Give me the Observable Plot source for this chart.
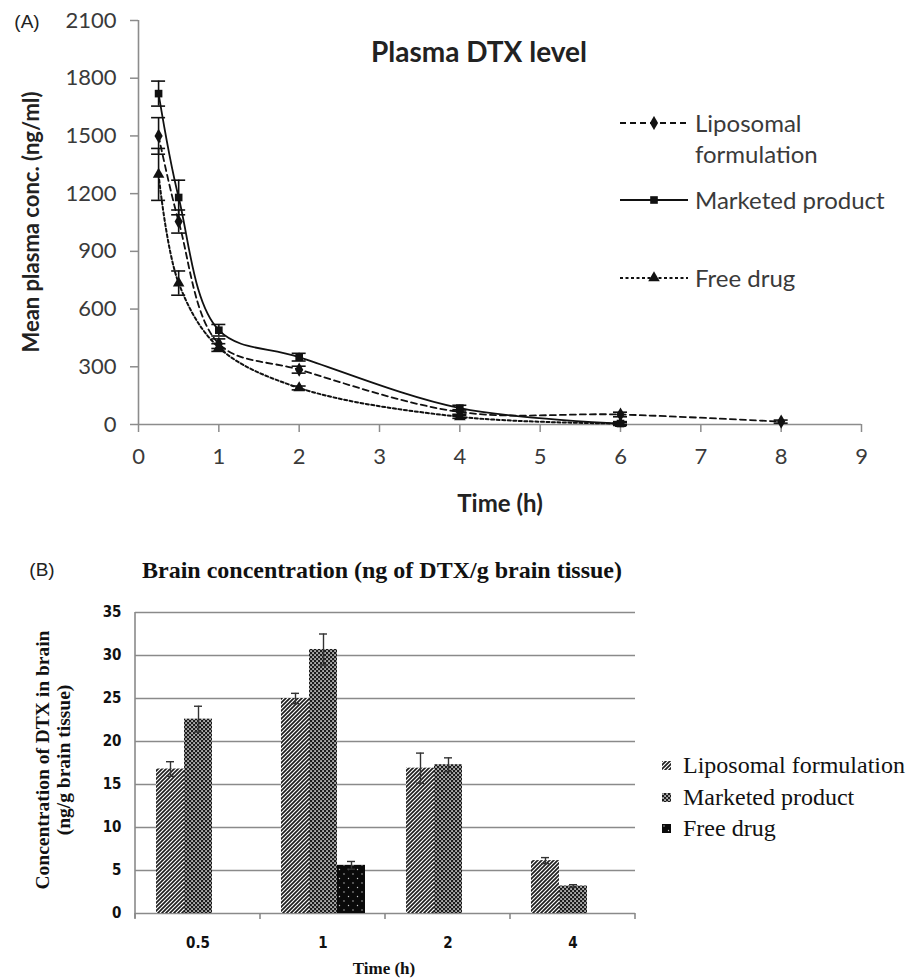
<!DOCTYPE html>
<html><head><meta charset="utf-8">
<script src="https://cdn.jsdelivr.net/npm/d3@7"></script>
<script src="https://cdn.jsdelivr.net/npm/@observablehq/plot@0.6"></script>
<style>
body{margin:0;background:#fff;}
#wrap{position:relative;width:918px;height:978px;overflow:hidden;background:#fff;}
#wrap svg{display:block;}
.lbl{position:absolute;white-space:nowrap;transform:translate(-50%,-50%);line-height:1;}
.lt{position:absolute;white-space:nowrap;line-height:1;transform:translateY(-50%);}
#B [aria-label="y-axis tick label"], #B [aria-label="fx-axis tick label"]{font-weight:bold;}
</style></head>
<body><div id="wrap"><div id="A"></div><div id="B"></div></div>
<script>
// ---------- Panel A data ----------
const seriesA = ["Liposomal formulation", "Marketed product", "Free drug"];
const lipoTime = [0.25, 0.5, 1, 2, 4, 6, 8];
const lipoMean = [1500, 1055, 420, 285, 65, 52, 15];
const lipoSD   = [95, 60, 25, 18, 12, 12, 8];
const marketTime = [0.25, 0.5, 1, 2, 4, 6];
const marketMean = [1720, 1180, 490, 350, 85, 5];
const marketSD   = [65, 90, 30, 20, 15, 10];
const freeTime = [0.25, 0.5, 1, 2, 4, 6];
const freeMean = [1300, 735, 400, 190, 40, 5];
const freeSD   = [135, 63, 20, 10, 8, 5];
const xTicksA = [0, 1, 2, 3, 4, 5, 6, 7, 8, 9];
const yTicksA = [0, 300, 600, 900, 1200, 1500, 1800, 2100];

// ---------- Panel B data ----------
const timesB = ["0.5", "1", "2", "4"];
const seriesB = ["Liposomal formulation", "Marketed product", "Free drug"];
const lipoB     = [16.8, 25.0, 16.9, 6.15];
const lipoErrB  = [0.85, 0.6, 1.75, 0.35];
const marketB   = [22.6, 30.7, 17.3, 3.2];
const marketErrB= [1.5, 1.8, 0.8, 0.15];
const freeB     = [0, 5.6, 0, 0];
const freeErrB  = [0, 0.45, 0, 0];
const yTicksB = [0, 5, 10, 15, 20, 25, 30, 35];

const wrap = document.getElementById("wrap");
function addText(txt, x, y, css, rot) {
  const el = document.createElement("div");
  el.className = "lbl"; el.textContent = txt;
  el.style.left = x + "px"; el.style.top = y + "px";
  Object.assign(el.style, css || {});
  if (rot) el.style.transform = `translate(-50%,-50%) rotate(${rot}deg)`;
  wrap.appendChild(el);
  return el;
}
function addLeft(txt, x, y, css) {
  const el = document.createElement("div");
  el.className = "lt"; el.textContent = txt;
  el.style.left = x + "px"; el.style.top = y + "px";
  Object.assign(el.style, css || {});
  wrap.appendChild(el);
  return el;
}

// ---------- Build panel A ----------
function rows(series, times, means, sds) {
  return times.map((t, i) => ({series, t, mean: means[i], sd: sds[i]}));
}
const lipoA = rows(seriesA[0], lipoTime, lipoMean, lipoSD);
const marketA = rows(seriesA[1], marketTime, marketMean, marketSD);
const freeA = rows(seriesA[2], freeTime, freeMean, freeSD);
const allA = [...lipoA, ...marketA, ...freeA];

const styleA = {
  [seriesA[0]]: {dash: "6,4", symbol: "diamond", width: 1.8},
  [seriesA[1]]: {dash: null, symbol: "square", width: 1.8},
  [seriesA[2]]: {dash: "3,2.5", symbol: "triangle", width: 2}
};

const lineMarks = [[lipoA, seriesA[0]], [marketA, seriesA[1]], [freeA, seriesA[2]]].map(([d, s]) =>
  Plot.line(d, {x: "t", y: "mean", curve: "catmull-rom", stroke: "#111",
    strokeWidth: styleA[s].width, strokeDasharray: styleA[s].dash || undefined}));
const dotMarks = [[lipoA, seriesA[0]], [marketA, seriesA[1]], [freeA, seriesA[2]]].map(([d, s]) =>
  Plot.dot(d, {x: "t", y: "mean", symbol: () => styleA[s].symbol, r: 4.3, fill: "#111", stroke: "none"}));

const plotA = Plot.plot({
  width: 918, height: 530,
  marginLeft: 138, marginRight: 57, marginTop: 20, marginBottom: 106,
  x: {domain: [0, 9]},
  y: {domain: [0, 2100]},
  style: {fontFamily: "Lato, 'Open Sans', sans-serif", fontSize: "22px", color: "#3a3a3a", background: "transparent", overflow: "visible"},
  marks: [
    Plot.axisY({ticks: yTicksA, tickSize: 8, tickPadding: 14, stroke: "#8c8c8c", strokeWidth: 1.5, label: null, tickFormat: d => `${d}`, fontSize: 22}),
    Plot.axisX({ticks: xTicksA, tickSize: 8, tickPadding: 16, stroke: "#8c8c8c", strokeWidth: 1.5, label: null, tickFormat: d => `${d}`, fontSize: 22}),
    Plot.ruleX([0], {stroke: "#8c8c8c", strokeWidth: 1.6}),
    Plot.ruleY([0], {stroke: "#8c8c8c", strokeWidth: 1.6}),
    ...lineMarks,
    Plot.ruleX(allA, {x: "t", y1: d => d.mean - d.sd, y2: d => d.mean + d.sd, stroke: "#111", strokeWidth: 1.6}),
    Plot.ruleY(allA, {x1: "t", x2: "t", y: d => d.mean + d.sd, insetLeft: -7, insetRight: -7, stroke: "#111", strokeWidth: 1.6}),
    Plot.ruleY(allA, {x1: "t", x2: "t", y: d => d.mean - d.sd, insetLeft: -7, insetRight: -7, stroke: "#111", strokeWidth: 1.6}),
    ...dotMarks
  ]
});
document.getElementById("A").appendChild(plotA);

// ---------- Build panel B ----------
const patternFill = ["url(#p-hatch)", "url(#p-check)", "url(#p-dots)"];
const dataB = [];
timesB.forEach((time, i) => {
  [[seriesB[0], lipoB, lipoErrB], [seriesB[1], marketB, marketErrB], [seriesB[2], freeB, freeErrB]].forEach(([series, v, e]) => {
    if (v[i] > 0) dataB.push({time, series, value: v[i], err: e[i]});
  });
});

const plotB = Plot.plot({
  width: 918, height: 448,
  marginLeft: 134, marginRight: 283, marginTop: 82, marginBottom: 65,
  fx: {domain: timesB, padding: 0, label: null},
  x: {domain: seriesB, paddingInner: 0, paddingOuter: 0.73, axis: null},
  y: {domain: [0, 35]},
  color: {domain: seriesB, range: patternFill},
  style: {fontFamily: "'DejaVu Sans Condensed', 'DejaVu Sans', sans-serif", fontSize: "15px", color: "#111", background: "transparent", overflow: "visible"},
  marks: [
    Plot.gridY({ticks: yTicksB, stroke: "#8a8a8a", strokeOpacity: 1, strokeWidth: 1.6}),
    Plot.axisY({ticks: yTicksB, tickSize: 0, tickPadding: 14, label: null, fontSize: 15, fontWeight: "bold"}),
    Plot.axisFx({anchor: "bottom", tickSize: 0, tickPadding: 24, label: null, fontSize: 15, fontWeight: "bold"}),
    Plot.barY(dataB, {fx: "time", x: "series", y: "value", fill: "series"}),
    Plot.ruleX(dataB, {fx: "time", x: "series", y1: d => d.value - d.err, y2: d => d.value + d.err, stroke: "#333", strokeWidth: 1.4}),
    Plot.tickY(dataB, {fx: "time", x: "series", y: d => d.value + d.err, insetLeft: 10, insetRight: 10, stroke: "#333", strokeWidth: 1.4}),
    Plot.tickY(dataB, {fx: "time", x: "series", y: d => d.value - d.err, insetLeft: 10, insetRight: 10, stroke: "#333", strokeWidth: 1.4})
  ]
});
document.getElementById("B").appendChild(plotB);

// patterns
const svgB = d3.select(plotB.tagName.toLowerCase() === "svg" ? plotB : plotB.querySelector("svg"));
const defs = svgB.insert("defs", ":first-child");
const ph = defs.append("pattern").attr("id", "p-hatch").attr("patternUnits", "userSpaceOnUse").attr("width", 4).attr("height", 4);
ph.append("rect").attr("width", 4).attr("height", 4).attr("fill", "#fff");
ph.append("path").attr("d", "M-1,1 L1,-1 M0,4 L4,0 M3,5 L5,3").attr("stroke", "#1e1e1e").attr("stroke-width", 1.7);
const pc = defs.append("pattern").attr("id", "p-check").attr("patternUnits", "userSpaceOnUse").attr("width", 4).attr("height", 4);
pc.append("rect").attr("width", 4).attr("height", 4).attr("fill", "#1c1c1c");
pc.append("rect").attr("x", 0.3).attr("y", 0.3).attr("width", 1.5).attr("height", 1.5).attr("fill", "#fff");
pc.append("rect").attr("x", 2.3).attr("y", 2.3).attr("width", 1.5).attr("height", 1.5).attr("fill", "#fff");
const pd = defs.append("pattern").attr("id", "p-dots").attr("patternUnits", "userSpaceOnUse").attr("width", 9).attr("height", 9);
pd.append("rect").attr("width", 9).attr("height", 9).attr("fill", "#0a0a0a");
pd.append("circle").attr("cx", 2).attr("cy", 2).attr("r", 0.7).attr("fill", "#ccc");
pd.append("circle").attr("cx", 6.5).attr("cy", 6.5).attr("r", 0.7).attr("fill", "#ccc");

// axis line + boundary ticks from the scales
const fxS = plotB.scale("fx"), yS = plotB.scale("y");
const bounds = timesB.map(t => fxS.apply(t)).concat([fxS.apply(timesB[timesB.length - 1]) + fxS.bandwidth]);
const y0 = yS.apply(0), yTop = yS.apply(35);
const gAx = svgB.append("g").attr("stroke", "#8a8a8a").attr("stroke-width", 1.6);
gAx.append("line").attr("x1", bounds[0]).attr("x2", bounds[0]).attr("y1", yTop).attr("y2", y0 + 5);
bounds.forEach(bx => gAx.append("line").attr("x1", bx).attr("x2", bx).attr("y1", y0).attr("y2", y0 + 6));

// ---------- Text overlays ----------
const sans = "Lato, 'Open Sans', sans-serif";
const serif = "'Liberation Serif', 'Times New Roman', serif";
addText("(A)", 27, 21, {fontFamily: "'Liberation Sans', Arial, sans-serif", fontSize: "19px", color: "#222"});
addText("Plasma DTX level", 479, 51, {fontFamily: sans, fontSize: "28px", fontWeight: "bold", color: "#222"});
addText("Mean plasma conc. (ng/ml)", 31, 222, {fontFamily: sans, fontSize: "22px", fontWeight: "bold", color: "#222"}, -90);
addText("Time (h)", 500, 503, {fontFamily: sans, fontSize: "24px", fontWeight: "bold", color: "#222"});

// Legend A
const legA = [
  {s: seriesA[0], y: 123, lines: ["Liposomal", "formulation"]},
  {s: seriesA[1], y: 200, lines: ["Marketed product"]},
  {s: seriesA[2], y: 278, lines: ["Free drug"]}
];
legA.forEach(L => {
  const sw = d3.select(wrap).append("svg").attr("width", 70).attr("height", 14)
    .style("position", "absolute").style("left", "619px").style("top", (L.y - 7) + "px");
  sw.append("line").attr("x1", 1).attr("x2", 69).attr("y1", 7).attr("y2", 7).attr("stroke", "#111")
    .attr("stroke-width", styleA[L.s].width).attr("stroke-dasharray", styleA[L.s].dash);
  const sym = {diamond: d3.symbolDiamond, square: d3.symbolSquare, triangle: d3.symbolTriangle}[styleA[L.s].symbol];
  sw.append("path").attr("d", d3.symbol(sym, 58)()).attr("transform", "translate(35,7)").attr("fill", "#111");
  L.lines.forEach((ln, k) => addLeft(ln, 695, L.y + k * 31, {fontFamily: sans, fontSize: "24px", color: "#3a3a3a"}));
});

// Panel B texts
addText("(B)", 42, 569, {fontFamily: "'Liberation Sans', Arial, sans-serif", fontSize: "19px", color: "#222"});
addText("Brain concentration (ng of DTX/g brain tissue)", 382, 570, {fontFamily: serif, fontSize: "24px", fontWeight: "bold", color: "#111"});
addText("Concentration of DTX in brain", 43, 760, {fontFamily: serif, fontSize: "19.5px", fontWeight: "bold", color: "#111"}, -90);
addText("(ng/g brain tissue)", 64, 760, {fontFamily: serif, fontSize: "19.5px", fontWeight: "bold", color: "#111"}, -90);
addText("Time (h)", 384, 968, {fontFamily: serif, fontSize: "17px", fontWeight: "bold", color: "#111"});

// Legend B
const legB = [{s: 0, y: 765}, {s: 1, y: 797}, {s: 2, y: 828}];
legB.forEach(L => {
  const sw = d3.select(wrap).append("svg").attr("width", 9).attr("height", 9)
    .style("position", "absolute").style("left", "662px").style("top", (L.y - 4) + "px");
  sw.append("rect").attr("width", 9).attr("height", 9).attr("fill", patternFill[L.s]);
  addLeft(seriesB[L.s], 683, L.y, {fontFamily: serif, fontSize: "24px", color: "#111"});
});
</script></body></html>
